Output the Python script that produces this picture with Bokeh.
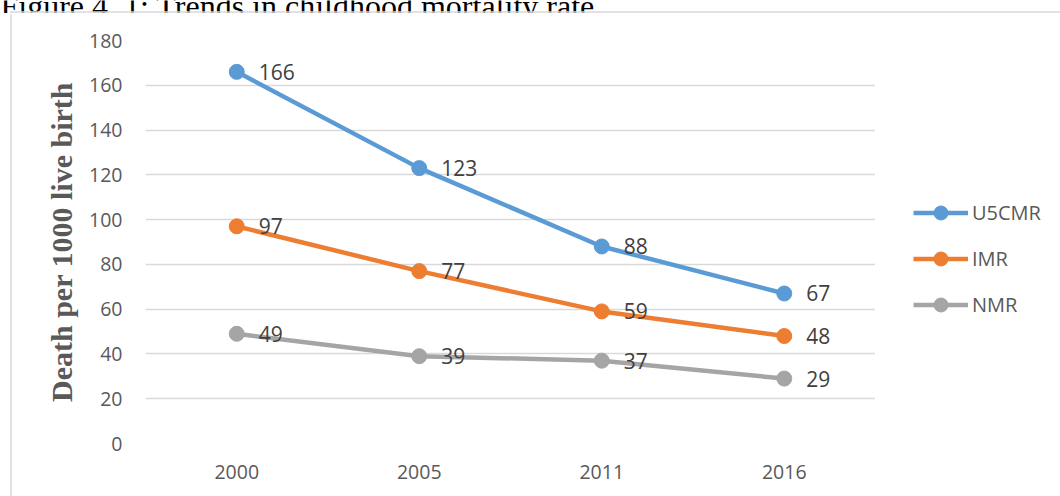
from bokeh.plotting import figure
from bokeh.layouts import column, row
from bokeh.models import (FactorRange, Range1d, FixedTicker, Legend, LegendItem,
                          ColumnDataSource)
from bokeh.embed import file_html
from bokeh.resources import INLINE
from bokeh.core.properties import value

years = ["2000", "2005", "2011", "2016"]
u5cmr = [166, 123, 88, 67]
imr = [97, 77, 59, 48]
nmr = [49, 39, 37, 29]
series_names = ["U5CMR", "IMR", "NMR"]
series_values = [u5cmr, imr, nmr]
series_colors = ["#5B9BD5", "#ED7D31", "#A5A5A5"]
y_ticks = [0, 20, 40, 60, 80, 100, 120, 140, 160, 180]
title_text = "Figure 4. 1: Trends in childhood mortality rate"
y_label = "Death per 1000 live birth"

W, H = 1060, 496
TOP_H = 13          # strip holding the cut-off document caption
STRIP_W = 12        # strip holding the left edge of the chart box
LEG_W = 185         # legend column, right of the plot area
BORDER = "#D9D9D9"
tick_font = "Open Sans"


def blank(width, height, xr, yr):
    f = figure(width=width, height=height, output_backend="svg", toolbar_location=None,
               x_axis_location=None, y_axis_location=None, title=None,
               x_range=xr, y_range=yr,
               min_border=0, min_border_left=0, min_border_right=0,
               min_border_top=0, min_border_bottom=0)
    f.outline_line_color = None
    f.grid.visible = False
    f.background_fill_color = "white"
    f.border_fill_color = "white"
    return f


# --- top strip: document caption (cut at the top edge) and box top edge
top = blank(W, TOP_H, Range1d(0, W), Range1d(TOP_H, 0))
top.text(x=[0], y=[5.5], text=[title_text], text_font=value("Liberation Serif"),
         text_font_size="32px", text_color="black", text_baseline="alphabetic",
         text_align="left")
top.line(x=[10, W], y=[11.5, 11.5], line_color=BORDER, line_width=1.5)
top.line(x=[10.5, 10.5], y=[11, TOP_H], line_color=BORDER, line_width=1.5)

# --- left strip: box left edge
MH = H - TOP_H
left = blank(STRIP_W, MH, Range1d(0, STRIP_W), Range1d(MH, 0))
left.line(x=[10.5, 10.5], y=[0, MH], line_color=BORDER, line_width=1.5)

# --- main chart
MW = W - STRIP_W - LEG_W
p = figure(width=MW, height=MH, x_range=FactorRange(factors=years),
           y_range=Range1d(0, 180), output_backend="svg", toolbar_location=None,
           min_border_left=145 - STRIP_W, min_border_right=0,
           min_border_top=40 - TOP_H, min_border_bottom=53)
p.outline_line_color = None
p.background_fill_color = "white"
p.border_fill_color = "white"

p.yaxis.ticker = FixedTicker(ticks=y_ticks)
p.yaxis.axis_line_color = None
p.yaxis.major_tick_line_color = None
p.yaxis.minor_tick_line_color = None
p.yaxis.major_tick_out = 0
p.yaxis.major_tick_in = 0
p.yaxis.major_label_standoff = 23
p.yaxis.major_label_text_font = tick_font
p.yaxis.major_label_text_font_size = "19.5px"
p.yaxis.major_label_text_color = "#595959"
p.yaxis.axis_label = y_label
p.yaxis.axis_label_text_font = "Liberation Serif"
p.yaxis.axis_label_text_font_style = "bold"
p.yaxis.axis_label_text_font_size = "30px"
p.yaxis.axis_label_text_color = "#595959"
p.yaxis.axis_label_standoff = 8

p.xaxis.axis_line_color = None
p.xaxis.major_tick_line_color = None
p.xaxis.major_tick_out = 0
p.xaxis.major_tick_in = 0
p.xaxis.major_label_standoff = 21
p.xaxis.major_label_text_font = tick_font
p.xaxis.major_label_text_font_size = "19.5px"
p.xaxis.major_label_text_color = "#595959"

p.xgrid.grid_line_color = None
p.ygrid.ticker = FixedTicker(ticks=y_ticks)
p.ygrid.grid_line_color = BORDER
p.ygrid.grid_line_width = 1.3

for name, vals, col in zip(series_names, series_values, series_colors):
    src = ColumnDataSource(dict(x=years, y=vals, t=[str(v) for v in vals]))
    p.line("x", "y", source=src, line_color=col, line_width=4.5)
    p.scatter("x", "y", source=src, size=15, fill_color=col, line_color=col)
    p.text("x", "y", text="t", source=src, x_offset=22, text_baseline="middle",
           text_align="left", text_font=value(tick_font), text_font_size="21px",
           text_color="#404040")

# --- legend column (same styles as the series)
leg = blank(LEG_W, MH, Range1d(0, LEG_W), Range1d(0, MH))
items = []
for name, col in zip(series_names, series_colors):
    ln = leg.line(x=[-100, -90], y=[-100, -100], line_color=col, line_width=4.5)
    sc = leg.scatter(x=[-100], y=[-100], size=15, fill_color=col, line_color=col)
    items.append(LegendItem(label=name, renderers=[ln, sc]))

legend = Legend(items=items, location=(38, 121), orientation="vertical",
                glyph_width=55, glyph_height=35, label_height=35, spacing=11,
                label_standoff=4, padding=0, margin=0,
                border_line_color=None, background_fill_alpha=0,
                label_text_font=tick_font, label_text_font_size="20px",
                label_text_color="#595959")
leg.add_layout(legend)

layout = column(top, row(left, row(p, leg, spacing=0), spacing=0), spacing=0)
open("out.html", "w").write(file_html(layout, INLINE))
